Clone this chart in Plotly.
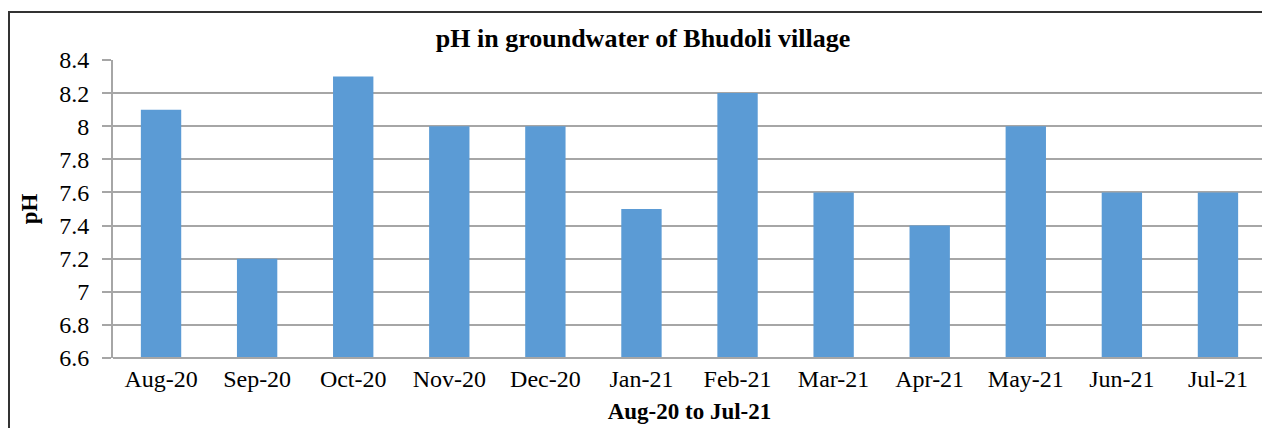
import plotly.graph_objects as go

months = ["Aug-20", "Sep-20", "Oct-20", "Nov-20", "Dec-20", "Jan-21",
          "Feb-21", "Mar-21", "Apr-21", "May-21", "Jun-21", "Jul-21"]
ph_values = [8.1, 7.2, 8.3, 8.0, 8.0, 7.5, 8.2, 7.6, 7.4, 8.0, 7.6, 7.6]
y_ticks = [6.6, 6.8, 7.0, 7.2, 7.4, 7.6, 7.8, 8.0, 8.2, 8.4]
y_tick_labels = ["6.6", "6.8", "7", "7.2", "7.4", "7.6", "7.8", "8", "8.2", "8.4"]

FONT = "Liberation Serif"

fig = go.Figure(go.Bar(
    x=months, y=ph_values, marker_color="#5B9BD5",
    marker_line_width=0, width=0.42,
))

fig.update_layout(
    width=1270, height=428,
    margin=dict(l=105, r=12, t=52, b=78),
    paper_bgcolor="white", plot_bgcolor="white",
    showlegend=False,
    title=dict(text="<b>pH in groundwater of Bhudoli village</b>",
               x=0.5, xanchor="center", y=0.93, yanchor="middle",
               font=dict(family=FONT, size=26, color="black")),
    font=dict(family=FONT, size=24, color="black"),
)

fig.update_xaxes(
    showline=False, showgrid=False, ticks="",
    ticklabelstandoff=4, automargin=False,
    tickfont=dict(family=FONT, size=24, color="black"),
    title=dict(text="<b>Aug-20 to Jul-21</b>", standoff=11,
               font=dict(family=FONT, size=23, color="black")),
)

fig.update_yaxes(
    range=[6.6, 8.4], tickvals=y_ticks, ticktext=y_tick_labels,
    showline=True, linecolor="#A6A6A6", linewidth=2,
    showgrid=True, gridcolor="#A6A6A6", gridwidth=2,
    ticks="outside", ticklen=9, tickcolor="#A6A6A6", tickwidth=2,
    ticklabelstandoff=8, automargin=False,
    tickfont=dict(family=FONT, size=24, color="black"),
    title=dict(text="<b>pH</b>", standoff=15,
               font=dict(family=FONT, size=23, color="black")),
    zeroline=False,
)

# bottom baseline of plot area
fig.add_shape(type="line", xref="paper", yref="paper", x0=0, x1=1, y0=0, y1=0,
              line=dict(color="#A6A6A6", width=2))

# outer chart border
fig.add_shape(type="rect", xref="paper", yref="paper",
              x0=-0.0902, x1=1.05, y0=-0.4, y1=1.161,
              line=dict(color="#333333", width=2), layer="above")

fig.write_html("out.html")
